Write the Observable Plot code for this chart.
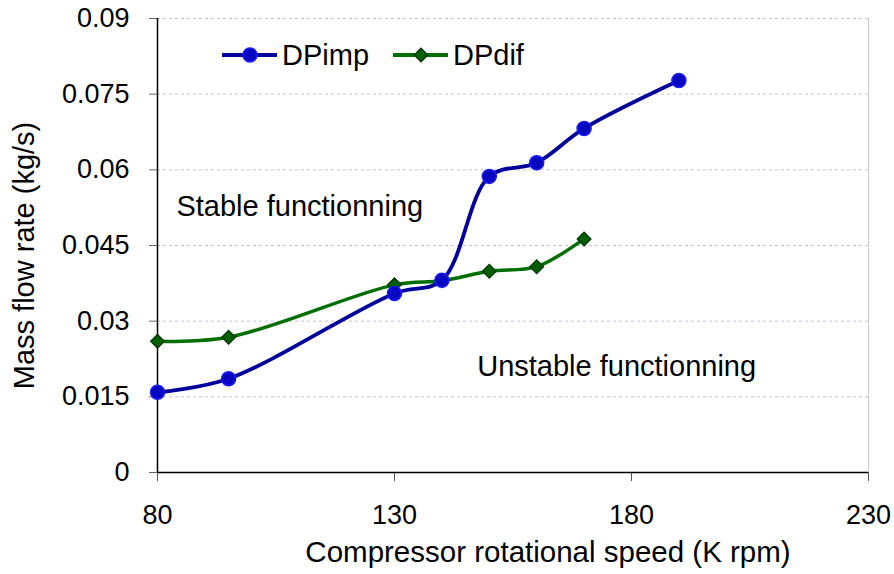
<!DOCTYPE html>
<html><head><meta charset="utf-8">
<script src="https://cdn.jsdelivr.net/npm/d3@7"></script>
<script src="https://cdn.jsdelivr.net/npm/@observablehq/plot@0.6"></script>
<style>
body{margin:0;background:#fff;}
#chart{position:relative;width:894px;height:574px;font-family:"Liberation Sans",Arial,sans-serif;}
</style>
</head><body><div id="chart"></div>
<script>
// ---- data ----
const dpimpSpeed = [80, 95, 130, 140, 150, 160, 170, 190];
const dpimpFlow  = [0.0159, 0.0186, 0.0355, 0.0381, 0.0587, 0.0614, 0.0682, 0.0777];
const dpdifSpeed = [80, 95, 130, 140, 150, 160, 170];
const dpdifFlow  = [0.0260, 0.0268, 0.0372, 0.0380, 0.0399, 0.0408, 0.0463];
const xTicks = [80, 130, 180, 230];
const yTicks = [0, 0.015, 0.03, 0.045, 0.06, 0.075, 0.09];
const yTickLabels = ["0", "0.015", "0.03", "0.045", "0.06", "0.075", "0.09"];
const seriesNames = ["DPimp", "DPdif"];
const regionLabels = ["Stable functionning", "Unstable functionning"];
const regionSpeed = [84.0, 147.45];
const regionFlow = [0.0527, 0.0210];
const xTitle = "Compressor rotational speed (K rpm)";
const yTitle = "Mass flow rate (kg/s)";

const imp = dpimpSpeed.map((s, i) => ({speed: s, flow: dpimpFlow[i]}));
const dif = dpdifSpeed.map((s, i) => ({speed: s, flow: dpdifFlow[i]}));
const regions = regionLabels.map((t, i) => ({text: t, speed: regionSpeed[i], flow: regionFlow[i]}));

const blueLine = "#00009a", blueFill = "#0808c0", blueStroke = "#1a1aff";
const greenLine = "#006e00", greenFill = "#005f00", greenStroke = "#003000";
const FS = 29;

const chart = Plot.plot({
  width: 894, height: 574,
  marginLeft: 157, marginRight: 26, marginTop: 18, marginBottom: 102,
  style: {fontFamily: '"Liberation Sans", Arial, sans-serif', background: "#fff", color: "#000"},
  x: {domain: [80, 230]},
  y: {domain: [0, 0.09]},
  marks: [
    Plot.gridY(yTicks.slice(1), {stroke: "#c4c4d0", strokeOpacity: 1, strokeDasharray: "3,3", strokeWidth: 1}),
    Plot.ruleX([230], {stroke: "#c8c8dc", strokeWidth: 1}),
    Plot.axisY({ticks: yTicks, tickSize: 8, tickPadding: 20, fontSize: 27, stroke: "#666",
      tickFormat: d => yTickLabels[yTicks.indexOf(d)], label: null}),
    Plot.axisX({ticks: xTicks, tickSize: 9, tickPadding: 23, fontSize: 27, stroke: "#555",
      tickFormat: d => String(d), label: null}),
    Plot.ruleX([80], {stroke: "#000", strokeWidth: 1.5}),
    Plot.ruleY([0], {stroke: "#000", strokeWidth: 1.5}),
    Plot.line(dif, {x: "speed", y: "flow", stroke: greenLine, strokeWidth: 3.5, curve: "catmull-rom"}),
    Plot.line(imp, {x: "speed", y: "flow", stroke: blueLine, strokeWidth: 3.8, curve: "catmull-rom"}),
    Plot.dot(dif, {x: "speed", y: "flow", symbol: "diamond2", r: 6.2, fill: greenFill, stroke: greenStroke, strokeWidth: 1.2}),
    Plot.dot(imp, {x: "speed", y: "flow", r: 7, fill: blueFill, stroke: blueStroke, strokeWidth: 1.5}),
    Plot.text(regions, {x: "speed", y: "flow", text: "text", textAnchor: "start", lineAnchor: "middle", fontSize: FS, fill: "#000"}),
    Plot.text([xTitle], {frameAnchor: "bottom", text: d => d, textAnchor: "middle", dx: 35, dy: 80, lineAnchor: "middle", fontSize: 29.5, fill: "#000"}),
    Plot.text([yTitle], {frameAnchor: "left", text: d => d, textAnchor: "middle", rotate: -90, dx: -133, dy: 10, lineAnchor: "middle", fontSize: FS, fill: "#000"})
  ]
});
document.getElementById("chart").appendChild(chart);

// legend inside the plot area
const svg = d3.select(chart);
const leg = svg.append("g").attr("font-family", '"Liberation Sans", Arial, sans-serif').attr("font-size", FS).attr("text-anchor", "start");
const legendItems = [
  {name: seriesNames[0], x0: 222, color: blueLine, kind: "circle"},
  {name: seriesNames[1], x0: 393, color: greenLine, kind: "diamond"}
];
legendItems.forEach(it => {
  const g = leg.append("g").attr("transform", `translate(${it.x0},55)`);
  g.append("line").attr("x1", 0).attr("x2", 55).attr("y1", 0).attr("y2", 0).attr("stroke", it.color).attr("stroke-width", 3.8);
  if (it.kind === "circle") {
    g.append("circle").attr("cx", 28).attr("cy", 0).attr("r", 7).attr("fill", blueFill).attr("stroke", blueStroke).attr("stroke-width", 1.5);
  } else {
    g.append("path").attr("d", d3.symbol(d3.symbolDiamond2, 6.2 * 6.2 * Math.PI)()).attr("transform", "translate(28,0)")
      .attr("fill", greenFill).attr("stroke", greenStroke).attr("stroke-width", 1.2);
  }
  g.append("text").attr("x", 60).attr("y", 0).attr("dy", "0.36em").attr("fill", "#000").attr("text-anchor", "start").text(it.name);
});
</script>
</body></html>
